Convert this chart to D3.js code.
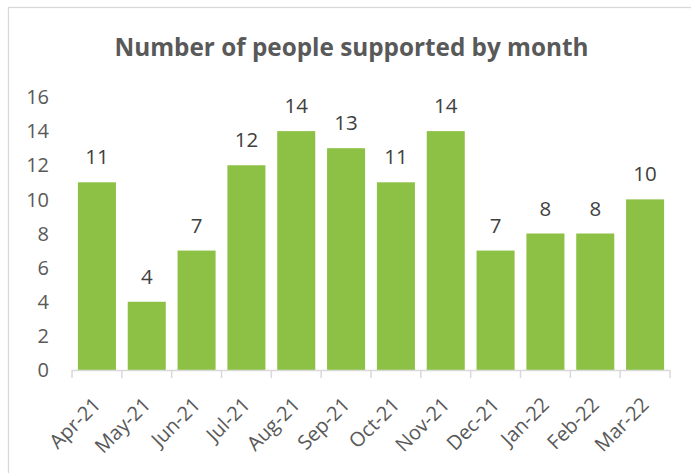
<!DOCTYPE html>
<html>
<head>
<meta charset="utf-8">
<script src="https://cdn.jsdelivr.net/npm/d3@7"></script>
<style>
  html, body { margin: 0; padding: 0; background: #fff; }
  svg { display: block; }
  text { font-family: "Open Sans", "Noto Sans", sans-serif; }
</style>
</head>
<body>
<svg id="chart" width="691" height="473"></svg>
<script>
// Monthly counts, April 2021 to March 2022
const months = ["Apr-21", "May-21", "Jun-21", "Jul-21", "Aug-21", "Sep-21",
                "Oct-21", "Nov-21", "Dec-21", "Jan-22", "Feb-22", "Mar-22"];
const peopleSupported = [11, 4, 7, 12, 14, 13, 11, 14, 7, 8, 8, 10];
const yTicks = [0, 2, 4, 6, 8, 10, 12, 14, 16];
const chartTitle = "Number of people supported by month";

const svg = d3.select("#chart");
const W = 691, H = 473;
const plot = { left: 72, right: 670, top: 97, bottom: 370 };

// outer frame of the chart area
svg.append("rect")
  .attr("x", 8.5).attr("y", 7.5)
  .attr("width", W + 20).attr("height", H + 20)
  .attr("fill", "#fff")
  .attr("stroke", "#d9d9d9").attr("stroke-width", 1.3);

svg.append("text")
  .attr("x", 351.5).attr("y", 56)
  .attr("text-anchor", "middle")
  .attr("font-size", 24.3).attr("font-weight", 700)
  .attr("fill", "#595959")
  .text(chartTitle);

const x = d3.scaleBand()
  .domain(months)
  .range([plot.left, plot.right])
  .paddingInner(0.237)
  .paddingOuter(0.1185);

const y = d3.scaleLinear()
  .domain([0, 16])
  .range([plot.bottom, plot.top]);

// y tick labels (no axis line, no gridlines)
svg.append("g")
  .selectAll("text")
  .data(yTicks)
  .join("text")
  .attr("x", 49)
  .attr("y", d => y(d))
  .attr("dy", "0.36em")
  .attr("text-anchor", "end")
  .attr("font-size", 20)
  .attr("fill", "#595959")
  .text(d => d);

// bars
svg.append("g")
  .selectAll("rect")
  .data(peopleSupported)
  .join("rect")
  .attr("x", (d, i) => x(months[i]))
  .attr("y", d => y(d))
  .attr("width", x.bandwidth())
  .attr("height", d => y(0) - y(d))
  .attr("fill", "#8dc145");

// value labels
svg.append("g")
  .selectAll("text")
  .data(peopleSupported)
  .join("text")
  .attr("x", (d, i) => x(months[i]) + x.bandwidth() / 2)
  .attr("y", d => y(d) - 18)
  .attr("text-anchor", "middle")
  .attr("font-size", 20.5)
  .attr("fill", "#404040")
  .text(d => d);

// category axis: line, boundary ticks, rotated labels
const step = x.step();
const boundaries = d3.range(months.length + 1).map(i => plot.left + i * step);
const axis = svg.append("g");
axis.append("line")
  .attr("x1", plot.left).attr("x2", plot.right)
  .attr("y1", plot.bottom + 0.5).attr("y2", plot.bottom + 0.5)
  .attr("stroke", "#d9d9d9").attr("stroke-width", 1.5);
axis.selectAll("line.tick")
  .data(boundaries)
  .join("line")
  .attr("class", "tick")
  .attr("x1", d => d).attr("x2", d => d)
  .attr("y1", plot.bottom).attr("y2", plot.bottom + 8)
  .attr("stroke", "#d9d9d9").attr("stroke-width", 1.5);

axis.selectAll("text")
  .data(months)
  .join("text")
  .attr("transform", d => {
    const cx = x(d) + x.bandwidth() / 2 + 5;
    return `translate(${cx},${plot.bottom + 36}) rotate(-45)`;
  })
  .attr("text-anchor", "end")
  .attr("font-size", 20)
  .attr("fill", "#595959")
  .text(d => d);
</script>
</body>
</html>
